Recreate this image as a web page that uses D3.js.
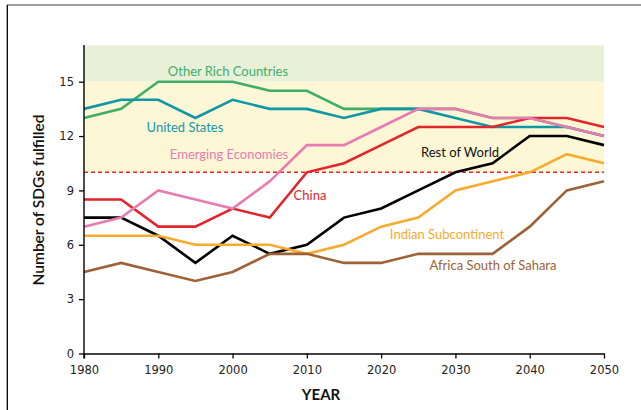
<!DOCTYPE html>
<html><head><meta charset="utf-8">
<script src="https://cdn.jsdelivr.net/npm/d3@7"></script>
<style>html,body{margin:0;padding:0;background:#fff;}svg{display:block;}</style>
</head><body>
<svg id="chart" width="641" height="410"></svg>
<script>
const years = [1980,1985,1990,1995,2000,2005,2010,2015,2020,2025,2030,2035,2040,2045,2050];
const otherRich   = [13,13.5,15,15,15,14.5,14.5,13.5,13.5,13.5,13.5,13,13,12.5,12];
const unitedStates= [13.5,14,14,13,14,13.5,13.5,13,13.5,13.5,13,12.5,12.5,12.5,12];
const emerging    = [7,7.5,9,8.5,8,9.5,11.5,11.5,12.5,13.5,13.5,13,13,12.5,12];
const china       = [8.5,8.5,7,7,8,7.5,10,10.5,11.5,12.5,12.5,12.5,13,13,12.5];
const restOfWorld = [7.5,7.5,6.5,5,6.5,5.5,6,7.5,8,9,10,10.5,12,12,11.5];
const indian      = [6.5,6.5,6.5,6,6,6,5.5,6,7,7.5,9,9.5,10,11,10.5];
const africa      = [4.5,5,4.5,4,4.5,5.5,5.5,5,5,5.5,5.5,5.5,7,9,9.5];
const seriesNames = ["Other Rich Countries","United States","Emerging Economies","China","Rest of World","Indian Subcontinent","Africa South of Sahara"];
const xTicks = [1980,1990,2000,2010,2020,2030,2040,2050];
const yTicks = [0,3,6,9,12,15];
const bands = [{from:15,to:17},{from:10,to:15}];
const threshold = 10;

const svg = d3.select("#chart");
const x = d3.scaleLinear().domain([1980,2050]).range([84,604]);
const y = d3.scaleLinear().domain([0,15]).range([353.5,81.7]);

// frame
svg.append("line").attr("x1",7).attr("x2",641).attr("y1",5).attr("y2",5).attr("stroke","#808080").attr("stroke-width",1.5);
svg.append("line").attr("x1",7.3).attr("x2",7.3).attr("y1",5).attr("y2",410).attr("stroke","#000").attr("stroke-width",1.3);

// bands
const bandColors = ["#e8f1d8","#fdf7d6"];
svg.selectAll("rect.band").data(bands).enter().append("rect")
  .attr("x",x(1980)).attr("width",x(2050)-x(1980))
  .attr("y",d=>y(d.to)).attr("height",d=>y(d.from)-y(d.to))
  .attr("fill",(d,i)=>bandColors[i]);

// threshold
svg.append("line").attr("x1",x(1980)).attr("x2",x(2050)).attr("y1",y(threshold)).attr("y2",y(threshold))
  .attr("stroke","#e8262b").attr("stroke-width",1.5).attr("stroke-dasharray","4,3");

// lines
const data = [otherRich,unitedStates,emerging,china,restOfWorld,indian,africa];
const colors = ["#3fae6a","#0f97a8","#e87bb0","#e2252a","#000000","#f7ab2e","#9c6238"];
const order = [0,1,3,4,5,6,2];
const line = d3.line().x((d,i)=>x(years[i])).y(d=>y(d));
order.forEach(k=>{
  svg.append("path").attr("d",line(data[k])).attr("fill","none")
    .attr("stroke",colors[k]).attr("stroke-width",2.6).attr("stroke-linejoin","miter");
});

// axes
const xAxis = d3.axisBottom(x).tickValues(xTicks).tickFormat(d3.format("d")).tickSize(5).tickSizeOuter(0);
const gx = svg.append("g").attr("transform",`translate(0,${y(0)})`).call(xAxis);
const yAxis = d3.axisLeft(y).tickValues(yTicks).tickSize(5).tickSizeOuter(0);
const gy = svg.append("g").attr("transform",`translate(${x(1980)},0)`).call(yAxis);
gy.select(".domain").attr("d",`M0,${y(17)-0.5}V${y(0)+5}`);
[gx,gy].forEach(g=>{
  g.select(".domain").attr("stroke","#000").attr("stroke-width",1.4);
  g.selectAll(".tick line").attr("stroke","#000").attr("stroke-width",1.3);
  g.selectAll(".tick text").attr("font-family","DejaVu Sans, sans-serif").attr("font-size","11.5px").attr("fill","#222");
});
gx.selectAll(".tick text").attr("y",12).attr("dy","0.71em");
gy.selectAll(".tick text").attr("x",-10);

// labels
const labelPos = [
  {x:228,y:76,c:"#3fae6a"},
  {x:185,y:132,c:"#0f97a8"},
  {x:229,y:159,c:"#e87bb0"},
  {x:310,y:200,c:"#e2252a"},
  {x:460,y:157,c:"#111"},
  {x:447,y:239,c:"#f7ab2e"},
  {x:493,y:270,c:"#9c6238"}
];
seriesNames.forEach((n,i)=>{
  svg.append("text").attr("x",labelPos[i].x).attr("y",labelPos[i].y).attr("text-anchor","middle")
    .attr("font-family","Lato, sans-serif").attr("font-size","13px").attr("fill",labelPos[i].c).text(n);
});

svg.append("text").attr("x",321).attr("y",400).attr("text-anchor","middle")
  .attr("font-family","Lato, sans-serif").attr("font-weight","bold").attr("font-size","15px").attr("fill","#111").text("YEAR");
svg.append("text").attr("transform","translate(44,200) rotate(-90)").attr("text-anchor","middle")
  .attr("font-family","Lato, sans-serif").attr("font-weight","600").attr("font-size","15.5px").attr("fill","#111").text("Number of SDGs fulfilled");
</script>
</body></html>
